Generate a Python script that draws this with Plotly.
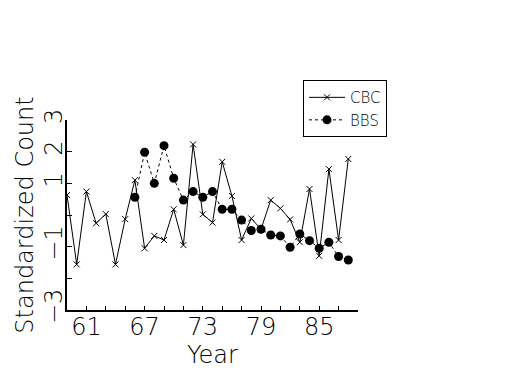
import plotly.graph_objects as go

cbc_years = list(range(59, 89))
cbc_values = [0.63, -1.56, 0.74, -0.26, 0.03, -1.56, -0.13, 1.10, -1.05, -0.66,
              -0.79, 0.18, -0.95, 2.23, 0.02, -0.24, 1.68, 0.60, -0.79, -0.11,
              -0.45, 0.47, 0.21, -0.14, -0.86, 0.82, -1.29, 1.45, -0.79, 1.77]
bbs_years = list(range(66, 89))
bbs_values = [0.56, 1.98, 1.00, 2.19, 1.16, 0.47, 0.74, 0.56, 0.74, 0.18, 0.18,
              -0.16, -0.49, -0.45, -0.63, -0.66, -1.02, -0.60, -0.81, -1.05,
              -0.86, -1.31, -1.42]

x_tickvals = list(range(59, 90, 2))
x_ticktext = [str(v) if v in (61, 67, 73, 79, 85) else "" for v in x_tickvals]
y_tickvals = [-3, -2, -1, 0, 1, 2, 3]
y_ticktext = ["\u22123", "", "\u22121", "", "1", "2", "3"]

FONT = "DejaVu Sans"
FS = 24

fig = go.Figure()
fig.add_trace(go.Scatter(
    x=cbc_years, y=cbc_values, name="CBC", mode="lines+markers",
    line=dict(color="black", width=1),
    marker=dict(symbol="x-thin-open", size=6, color="black",
                line=dict(color="black", width=1)),
))
fig.add_trace(go.Scatter(
    x=bbs_years, y=bbs_values, name="BBS", mode="lines+markers",
    line=dict(color="black", width=1, dash="dot"),
    marker=dict(symbol="circle", size=9, color="black"),
))

fig.update_layout(
    width=525, height=375,
    margin=dict(l=59, r=175, t=112, b=73, autoexpand=False),
    paper_bgcolor="white", plot_bgcolor="white",
    font=dict(family=FONT, color="black", size=FS, weight=200),
    showlegend=True,
    legend=dict(x=0.811, y=1.21, xanchor="left", yanchor="top",
                bordercolor="black", borderwidth=1, bgcolor="white",
                font=dict(size=15, family=FONT, weight=200, color="black"),
                tracegroupgap=0, itemwidth=36),
    xaxis=dict(range=[59, 89], tickvals=x_tickvals, ticktext=x_ticktext,
               ticks="inside", ticklen=4, tickwidth=1, tickcolor="black",
               showline=True, linecolor="black", linewidth=2, mirror=False,
               showgrid=False, zeroline=False, automargin=False,
               ticklabelstandoff=-6,
               tickfont=dict(size=FS, family=FONT, weight=200),
               title=dict(text="Year", font=dict(size=FS, family=FONT, weight=200), standoff=4)),
    yaxis=dict(range=[-3, 3], tickvals=y_tickvals, ticktext=y_ticktext,
               ticks="inside", ticklen=5, tickwidth=1, tickcolor="black",
               tickangle=-90, ticklabelstandoff=-7,
               showline=True, linecolor="black", linewidth=2, mirror=False,
               showgrid=False, zeroline=False, automargin=False,
               tickfont=dict(size=FS, family=FONT, weight=200),
               title=dict(text="Standardized Count", font=dict(size=FS, family=FONT, weight=200), standoff=0)),
)

fig.write_html("out.html")
